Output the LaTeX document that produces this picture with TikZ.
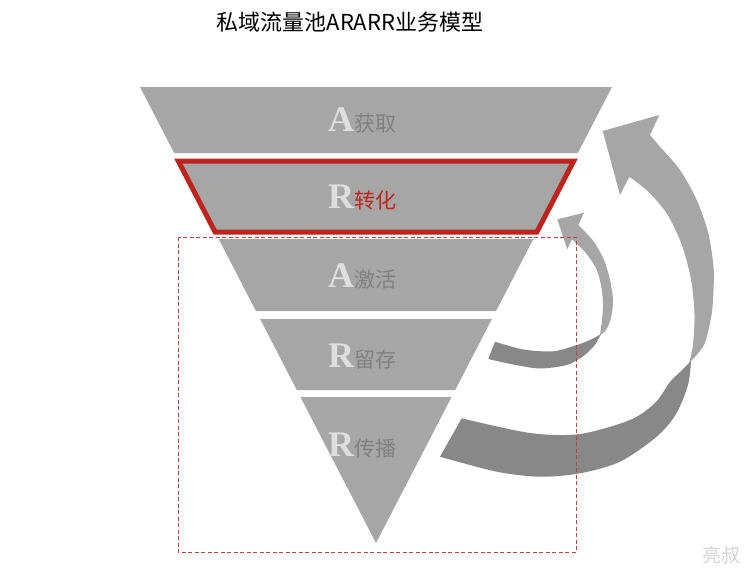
\documentclass[tikz,border=0pt]{standalone}
\usepackage{fontspec}
\setmainfont{Liberation Serif}
\newfontfamily\cjk{Noto Sans CJK SC}
\definecolor{funnelgray}{RGB}{166,166,166}
\definecolor{arrowlight}{RGB}{166,166,166}
\definecolor{arrowdark}{RGB}{136,136,136}
\definecolor{redline}{RGB}{190,36,30}
\definecolor{dashred}{RGB}{185,65,65}
\definecolor{labelgray}{RGB}{128,128,128}
\definecolor{letterlight}{RGB}{222,222,222}
\definecolor{wmgray}{RGB}{212,212,212}
\begin{document}
\begin{tikzpicture}[x=1pt,y=-1pt,
  seg/.style={fill=funnelgray},
  hiseg/.style={fill=funnelgray,draw=redline,line width=5pt,line join=miter},
  lbl/.style={anchor=base,inner sep=0pt,outer sep=0pt},
  dashbox/.style={draw=dashred,line width=0.9pt,dash pattern=on 4pt off 2.5pt}
]
\useasboundingbox[fill=white] (0,0) rectangle (750,574);

% title
\node[lbl] (title) at (350,30) {\cjk\fontsize{22}{22}\selectfont 私域流量池ARARR业务模型};

% funnel segments
\fill[seg] (140,87) -- (612,87) -- (577.8,153) -- (174.2,153) -- cycle;
\filldraw[hiseg] (178.3,161) -- (573.7,161) -- (536.9,232) -- (215.1,232) -- cycle;
\fill[seg] (218.7,239) -- (533.3,239) -- (496.1,311) -- (255.9,311) -- cycle;
\fill[seg] (260.1,319) -- (491.9,319) -- (455.2,390) -- (296.8,390) -- cycle;
\fill[seg] (300.4,397) -- (451.6,397) -- (376,543) -- cycle;

% labels
\newcommand{\bigL}[1]{{\fontsize{36}{36}\selectfont\bfseries\color{letterlight}#1}}
\newcommand{\cjkL}[2]{{\cjk\fontsize{21}{21}\selectfont\color{#1}#2}}
\node[lbl] (l1) at (362,131) {\bigL{A}\cjkL{labelgray}{获取}};
\node[lbl] (l2) at (362,208) {\bigL{R}\cjkL{redline}{转化}};
\node[lbl] (l3) at (362,287) {\bigL{A}\cjkL{labelgray}{激活}};
\node[lbl] (l4) at (362,367) {\bigL{R}\cjkL{labelgray}{留存}};
\node[lbl] (l5) at (362,456) {\bigL{R}\cjkL{labelgray}{传播}};

% big arrow: light part
\fill[arrowlight] plot[smooth] coordinates {(689,363) (693,345) (694.5,315) (692,285) (687,262) (680,240) (666.7,213.3) (648.3,191.7) (629.3,176.7)}
  -- (620,195) -- (602.7,131) -- (659.3,115)
  -- plot[smooth] coordinates {(650,135) (660,146.7) (680,170) (696.7,200) (708.3,233.3) (713.5,266.7) (713.5,290) (711.5,315) (704,345) (689,363)} -- cycle;
% big arrow: dark part
\fill[arrowdark] plot[smooth] coordinates {(440,456.7) (496.7,471.7) (540,476.7) (580,473.3) (620,461.7) (656.7,436.7) (676,414) (688,385) (691,361)}
  -- plot[smooth] coordinates {(691,361) (680,372) (670,382) (655,403) (630,420) (580,434) (530,433) (461.7,418.3)} -- cycle;

% small arrow: light part
\fill[arrowlight] plot[smooth] coordinates {(600,335) (602,320) (603,303) (601,285) (596,268) (585,252) (571.9,239.3)}
  -- (567.3,249.3) -- (557.3,219.3) -- (584,212.7)
  -- plot[smooth] coordinates {(578.4,225) (593.3,241) (604,260) (610,280) (613,300) (611,318) (606,330) (600,335)} -- cycle;
% small arrow: dark part
\fill[arrowdark] plot[smooth] coordinates {(488.3,359) (513.3,364.5) (540,368.5) (566.7,365) (582,357) (594,346) (601,334)}
  -- plot[smooth] coordinates {(601,334) (590,340) (576.7,345) (553.3,351.3) (523.3,349.5) (495,341.7)} -- cycle;

% dashed box
\draw[dashbox] (178,237) rectangle (576,552);

% watermark
\node[lbl] (wm) at (721,562) {\cjk\fontsize{19}{19}\selectfont\color{wmgray}亮叔};
\end{tikzpicture}
\end{document}
